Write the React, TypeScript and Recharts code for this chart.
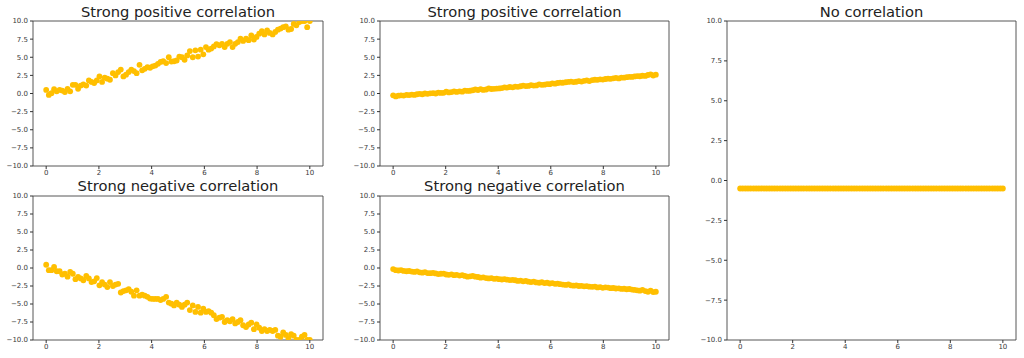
import React from "react";
import { ScatterChart, Scatter, XAxis, YAxis, ReferenceArea } from "recharts";

const X = [
  0.0, 0.1, 0.2, 0.3, 0.4, 0.51, 0.61, 0.71, 0.81, 0.91,
  1.01, 1.11, 1.21, 1.31, 1.41, 1.52, 1.62, 1.72, 1.82, 1.92,
  2.02, 2.12, 2.22, 2.32, 2.42, 2.53, 2.63, 2.73, 2.83, 2.93,
  3.03, 3.13, 3.23, 3.33, 3.43, 3.54, 3.64, 3.74, 3.84, 3.94,
  4.04, 4.14, 4.24, 4.34, 4.44, 4.55, 4.65, 4.75, 4.85, 4.95,
  5.05, 5.15, 5.25, 5.35, 5.45, 5.56, 5.66, 5.76, 5.86, 5.96,
  6.06, 6.16, 6.26, 6.36, 6.46, 6.57, 6.67, 6.77, 6.87, 6.97,
  7.07, 7.17, 7.27, 7.37, 7.47, 7.58, 7.68, 7.78, 7.88, 7.98,
  8.08, 8.18, 8.28, 8.38, 8.48, 8.59, 8.69, 8.79, 8.89, 8.99,
  9.09, 9.19, 9.29, 9.39, 9.49, 9.6, 9.7, 9.8, 9.9, 10.0,
];

const POS_STEEP = [
  0.5, -0.2, 0.05, 0.6, 0.3, 0.5, 0.4, 0.2, 0.65, 0.3,
  1.2, 1.2, 0.65, 1.1, 1.25, 1.1, 1.8, 1.6, 1.45, 1.8,
  2.35, 1.6, 2.2, 2.05, 1.9, 2.8, 2.5, 2.95, 3.3, 2.35,
  2.6, 2.95, 3.3, 3.1, 2.8, 3.95, 3.2, 3.4, 3.65, 3.55,
  3.75, 3.85, 4.1, 4.35, 4.45, 4.2, 5.0, 4.4, 4.45, 4.55,
  5.1, 5.0, 4.65, 5.25, 5.85, 5.0, 5.95, 5.1, 6.05, 5.4,
  6.4, 6.05, 6.2, 6.5, 6.8, 6.65, 6.85, 6.4, 6.85, 7.1,
  6.4, 6.85, 7.1, 7.55, 7.25, 7.55, 7.35, 8.0, 7.45, 7.8,
  8.25, 8.6, 8.15, 8.7, 8.35, 8.15, 8.5, 8.8, 8.95, 9.15,
  9.25, 8.8, 8.9, 9.6, 9.4, 9.85, 10.0, 10.0, 9.15, 10.0,
];

const NEG_STEEP = [
  0.45, -0.3, -0.3, 0.15, -0.45, -0.45, -0.9, -0.8, -1.2, -0.55,
  -0.8, -1.55, -1.25, -1.45, -1.7, -1.1, -1.45, -1.95, -1.85, -1.4,
  -2.4, -1.95, -2.3, -2.65, -1.95, -2.5, -2.3, -2.2, -3.4, -3.2,
  -3.1, -2.95, -3.3, -3.85, -3.1, -3.85, -3.7, -3.85, -4.0, -4.25,
  -4.3, -4.3, -4.3, -4.45, -4.3, -4.0, -4.8, -4.95, -5.2, -4.8,
  -5.1, -5.4, -5.1, -4.8, -5.85, -5.2, -6.1, -5.4, -6.2, -5.65,
  -6.1, -6.0, -6.2, -6.55, -7.1, -6.9, -6.8, -7.5, -7.25, -7.4,
  -7.1, -7.7, -7.5, -7.25, -7.95, -8.2, -7.85, -7.6, -8.5, -7.85,
  -8.3, -8.75, -8.5, -8.75, -8.6, -8.75, -8.6, -9.4, -9.55, -8.95,
  -9.3, -9.75, -9.2, -9.4, -10.0, -10.0, -9.55, -9.3, -10.0, -10.0,
];

const POS_SHALLOW = [
  -0.25, -0.4, -0.3, -0.25, -0.28, -0.2, -0.22, -0.15, -0.2, -0.1,
  -0.05, -0.1, 0.0, -0.05, 0.02, 0.05, 0.0, 0.12, 0.08, 0.1,
  0.25, 0.15, 0.2, 0.28, 0.22, 0.3, 0.25, 0.4, 0.35, 0.38,
  0.45, 0.55, 0.48, 0.6, 0.5, 0.55, 0.7, 0.62, 0.65, 0.68,
  0.7, 0.75, 0.85, 0.8, 0.9, 0.85, 0.95, 0.92, 1.0, 1.1,
  1.02, 1.05, 1.15, 1.1, 1.12, 1.25, 1.2, 1.22, 1.3, 1.28,
  1.4, 1.35, 1.45, 1.5, 1.48, 1.55, 1.6, 1.65, 1.58, 1.62,
  1.7, 1.65, 1.75, 1.8, 1.72, 1.85, 1.9, 1.88, 1.95, 1.92,
  2.0, 2.05, 2.02, 2.1, 2.15, 2.08, 2.2, 2.18, 2.25, 2.3,
  2.28, 2.35, 2.4, 2.38, 2.45, 2.42, 2.55, 2.65, 2.48, 2.6,
];

const NEG_SHALLOW = [
  -0.15, -0.3, -0.35, -0.3, -0.4, -0.45, -0.42, -0.5, -0.55, -0.48,
  -0.6, -0.65, -0.58, -0.7, -0.72, -0.68, -0.75, -0.85, -0.8, -0.78,
  -0.9, -0.95, -0.88, -1.0, -0.95, -1.05, -1.0, -1.1, -1.2, -1.15,
  -1.1, -1.2, -1.25, -1.35, -1.3, -1.4, -1.45, -1.42, -1.5, -1.48,
  -1.55, -1.6, -1.55, -1.62, -1.68, -1.65, -1.7, -1.8, -1.75, -1.85,
  -1.8, -1.9, -1.95, -1.88, -2.0, -2.05, -1.98, -2.1, -2.05, -2.15,
  -2.1, -2.2, -2.18, -2.25, -2.3, -2.35, -2.28, -2.4, -2.45, -2.42,
  -2.5, -2.48, -2.55, -2.52, -2.6, -2.62, -2.58, -2.7, -2.65, -2.75,
  -2.68, -2.72, -2.8, -2.78, -2.85, -2.82, -2.9, -2.88, -2.95, -2.92,
  -3.0, -3.05, -3.1, -3.15, -3.05, -3.2, -3.3, -3.15, -3.35, -3.3,
];

const NONE = [
  -0.5, -0.5, -0.5, -0.5, -0.5, -0.5, -0.5, -0.5, -0.5, -0.5,
  -0.5, -0.5, -0.5, -0.5, -0.5, -0.5, -0.5, -0.5, -0.5, -0.5,
  -0.5, -0.5, -0.5, -0.5, -0.5, -0.5, -0.5, -0.5, -0.5, -0.5,
  -0.5, -0.5, -0.5, -0.5, -0.5, -0.5, -0.5, -0.5, -0.5, -0.5,
  -0.5, -0.5, -0.5, -0.5, -0.5, -0.5, -0.5, -0.5, -0.5, -0.5,
  -0.5, -0.5, -0.5, -0.5, -0.5, -0.5, -0.5, -0.5, -0.5, -0.5,
  -0.5, -0.5, -0.5, -0.5, -0.5, -0.5, -0.5, -0.5, -0.5, -0.5,
  -0.5, -0.5, -0.5, -0.5, -0.5, -0.5, -0.5, -0.5, -0.5, -0.5,
  -0.5, -0.5, -0.5, -0.5, -0.5, -0.5, -0.5, -0.5, -0.5, -0.5,
  -0.5, -0.5, -0.5, -0.5, -0.5, -0.5, -0.5, -0.5, -0.5, -0.5,
];

const X_TICKS = [0, 2, 4, 6, 8, 10];
const Y_TICKS = [-10, -7.5, -5, -2.5, 0, 2.5, 5, 7.5, 10];

const TITLES = [
  "Strong positive correlation",
  "Strong negative correlation",
  "Strong positive correlation",
  "Strong negative correlation",
  "No correlation",
];

const COLOR = "#FFBF00";
const FONT = "'DejaVu Sans', sans-serif";

const fmtY = (v: number) => v.toFixed(1).replace("-", "\u2212");

const tickStyle = { fontSize: 7, fontFamily: FONT, fill: "#3a3a3a" };

const Dot = (props: any) => (
  <circle cx={props.cx} cy={props.cy} r={2.9} fill={COLOR} />
);

interface PanelProps {
  left: number;
  top: number;
  width: number;
  height: number;
  marginTop: number;
  marginRight: number;
  values: number[];
}

function Panel({ left, top, width, height, marginTop, marginRight, values }: PanelProps) {
  const data = X.map((x, i) => ({ x, y: values[i] }));
  return (
    <div style={{ position: "absolute", left, top, width, height }}>
      <ScatterChart
        width={width}
        height={height}
        margin={{ top: marginTop, right: marginRight, bottom: 0, left: 0 }}
      >
        <XAxis
          type="number"
          dataKey="x"
          domain={[-0.5, 10.5]}
          ticks={X_TICKS}
          allowDataOverflow
          axisLine={false}
          tickSize={3}
          tickMargin={1}
          height={14}
          tick={tickStyle}
          tickLine={{ stroke: "#333" }}
          interval={0}
        />
        <YAxis
          type="number"
          dataKey="y"
          domain={[-10, 10]}
          ticks={Y_TICKS}
          allowDataOverflow
          axisLine={false}
          tickSize={3}
          tickMargin={2}
          width={33}
          tick={tickStyle}
          tickLine={{ stroke: "#333" }}
          tickFormatter={fmtY}
          interval={0}
        />
        <Scatter data={data} fill={COLOR} shape={Dot} isAnimationActive={false} />
        <ReferenceArea
          x1={-0.5}
          x2={10.5}
          y1={-10}
          y2={10}
          fill="none"
          fillOpacity={0}
          stroke="#444"
          strokeWidth={0.9}
          ifOverflow="visible"
        />
      </ScatterChart>
    </div>
  );
}

export default function App() {
  return (
    <div
      style={{
        position: "absolute",
        left: 0,
        top: 0,
        width: 1024,
        height: 358,
        background: "#fff",
        overflow: "hidden",
      }}
    >
      <Panel left={0} top={0} width={330} height={180} marginTop={21} marginRight={7} values={POS_STEEP} />
      <Panel left={0} top={175} width={330} height={179} marginTop={21} marginRight={7} values={NEG_STEEP} />
      <Panel left={347} top={0} width={330} height={180} marginTop={21} marginRight={8} values={POS_SHALLOW} />
      <Panel left={347} top={175} width={330} height={179} marginTop={21} marginRight={8} values={NEG_SHALLOW} />
      <Panel left={694} top={0} width={330} height={354} marginTop={21} marginRight={8} values={NONE} />
      <svg
        width={1024}
        height={358}
        style={{ position: "absolute", left: 0, top: 0, pointerEvents: "none" }}
      >
        <g fontFamily={FONT} fontSize={14.7} fill="#222" textAnchor="middle">
          <text x={178} y={17}>{TITLES[0]}</text>
          <text x={178} y={191}>{TITLES[1]}</text>
          <text x={524.5} y={17}>{TITLES[2]}</text>
          <text x={524.5} y={191}>{TITLES[3]}</text>
          <text x={871.5} y={17}>{TITLES[4]}</text>
        </g>
      </svg>
    </div>
  );
}
